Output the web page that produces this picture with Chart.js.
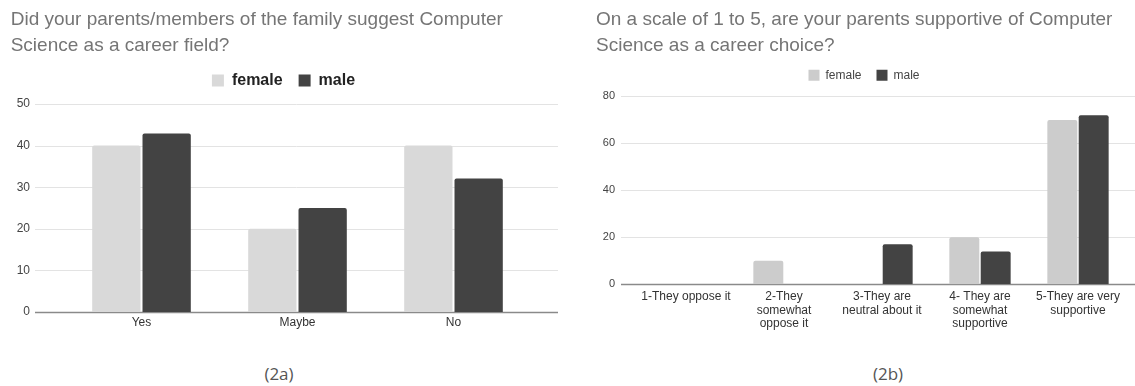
<!DOCTYPE html>
<html>
<head>
<meta charset="utf-8">
<script src="https://cdn.jsdelivr.net/npm/chart.js@4.4.1/dist/chart.umd.min.js"></script>
<style>
  html, body { margin: 0; padding: 0; background: #ffffff; }
  body { width: 1135px; height: 386px; position: relative; overflow: hidden; }
  .box { position: absolute; top: 0; height: 345px; }
  #box1 { left: 0; width: 560px; }
  #box2 { left: 580px; width: 555px; }
  .cap { position: absolute; top: 362px; width: 80px; text-align: center;
         font-family: "Open Sans", sans-serif; font-size: 17px; color: #555; font-weight: 400; }
</style>
</head>
<body>
<div class="box" id="box1"><canvas id="c1"></canvas></div>
<div class="box" id="box2"><canvas id="c2"></canvas></div>
<div class="cap" style="left:239px">(2a)</div>
<div class="cap" style="left:848px">(2b)</div>
<script>
// ---- Data ----
const title1 = ["Did your parents/members of the family suggest Computer", "Science as a career field?"];
const categories1 = ["Yes", "Maybe", "No"];
const female1 = [40, 20, 40];
const male1 = [42.9, 25, 32.1];
const yTicks1 = [0, 10, 20, 30, 40, 50];

const title2 = ["On a scale of 1 to 5, are your parents supportive of Computer", "Science as a career choice?"];
const categories2 = [
  ["1-They oppose it"],
  ["2-They", "somewhat", "oppose it"],
  ["3-They are", "neutral about it"],
  ["4- They are", "somewhat", "supportive"],
  ["5-They are very", "supportive"]
];
const female2 = [0, 10, 0, 20, 70];
const male2 = [0, 0, 17, 14, 72];
const yTicks2 = [0, 20, 40, 60, 80];

const seriesNames = ["female", "male"];

// grid plugin: extends horizontal gridlines beyond the category band
const extGrid = {
  id: 'extGrid',
  beforeDatasetsDraw(chart, args, opts) {
    const ctx = chart.ctx, y = chart.scales.y, a = chart.chartArea;
    const x0 = a.left - opts.extL, x1 = a.right + opts.extR;
    ctx.save();
    y.ticks.forEach(t => {
      const py = Math.round(y.getPixelForValue(t.value));
      ctx.beginPath();
      if (t.value === 0) { ctx.strokeStyle = opts.zeroColor; ctx.lineWidth = 1.5; }
      else { ctx.strokeStyle = opts.color; ctx.lineWidth = 1; }
      ctx.moveTo(x0, py + 0.5); ctx.lineTo(x1, py + 0.5);
      ctx.stroke();
    });
    ctx.restore();
  }
};

function makeChart(id, cfg) {
  const spacer = (w, h) => ({
    display: true, position: w ? 'right' : 'top', type: 'linear',
    ticks: { display: false }, grid: { display: false, drawTicks: false }, border: { display: false },
    afterFit: s => { if (w) s.width = w; else s.height = h; }
  });
  return new Chart(document.getElementById(id), {
    type: 'bar',
    data: {
      labels: cfg.labels,
      datasets: [
        { label: seriesNames[0], data: cfg.female, backgroundColor: cfg.femaleColor,
          categoryPercentage: cfg.catPct, barPercentage: cfg.barPct,
          borderRadius: { topLeft: 2, topRight: 2 }, borderSkipped: 'bottom' },
        { label: seriesNames[1], data: cfg.male, backgroundColor: '#434343',
          categoryPercentage: cfg.catPct, barPercentage: cfg.barPct,
          borderRadius: { topLeft: 2, topRight: 2 }, borderSkipped: 'bottom' }
      ]
    },
    options: {
      responsive: true, maintainAspectRatio: false, animation: false,
      layout: { padding: { left: cfg.padL, right: cfg.padR, top: 0, bottom: 0 } },
      plugins: {
        tooltip: { enabled: false },
        title: {
          display: true, text: cfg.title, align: 'start', color: '#757575',
          font: { family: 'Liberation Sans, Arial, sans-serif', size: 19, weight: 'normal', lineHeight: cfg.titleLH },
          padding: { top: cfg.titleTop, bottom: cfg.titleBottom }
        },
        legend: {
          display: true, position: 'top', align: 'center',
          labels: {
            boxWidth: cfg.box, boxHeight: cfg.box, padding: cfg.legPad, color: cfg.legColor,
            font: { family: 'Liberation Sans, Arial, sans-serif', size: cfg.legSize, weight: cfg.legWeight }
          }
        },
        extGrid: { extL: cfg.extL, extR: cfg.extR, color: '#e3e3e3', zeroColor: '#8a8a8a' }
      },
      scales: {
        x: {
          grid: { display: false, drawTicks: false }, border: { display: false },
          ticks: { color: '#333', padding: cfg.xPad, maxRotation: 0, autoSkip: false,
                   font: { family: 'Liberation Sans, Arial, sans-serif', size: 12, lineHeight: cfg.xLH } },
          afterFit: s => { s.height = cfg.xH; }
        },
        y: {
          min: 0, max: cfg.yMax,
          afterBuildTicks: s => { s.ticks = cfg.yTicks.map(v => ({ value: v })); },
          grid: { display: false, drawTicks: false }, border: { display: false },
          ticks: { color: '#444', padding: cfg.yPad,
                   font: { family: 'Liberation Sans, Arial, sans-serif', size: cfg.ySize } },
          afterFit: s => { s.width = cfg.yW; s.paddingTop = 0; s.paddingBottom = 0; }
        },
        sr: spacer(cfg.rightW, 0),
        st: spacer(0, cfg.topH)
      }
    },
    plugins: [extGrid]
  });
}

makeChart('c1', {
  labels: categories1, female: female1, male: male1, femaleColor: '#d9d9d9',
  catPct: 0.645, barPct: 0.96, title: title1, titleLH: 26 / 19, titleTop: 6.6, titleBottom: -2,
  box: 12, legPad: 16, legColor: '#222', legSize: 16, legWeight: 'bold',
  padL: 10.7, padR: 3.7, rightW: 24.8, topH: 5.4,
  yMax: 50, yTicks: yTicks1, yW: 52.8, yPad: 33.5, ySize: 12,
  xH: 33, xPad: 4, xLH: 1.15, extL: 28.5, extR: 26.5
});

makeChart('c2', {
  labels: categories2, female: female2, male: male2, femaleColor: '#cccccc',
  catPct: 0.64, barPct: 0.955, title: title2, titleLH: 25.5 / 19, titleTop: 7.2, titleBottom: -4,
  box: 11, legPad: 15, legColor: '#444', legSize: 12, legWeight: 'normal',
  padL: 16, padR: 3, rightW: 5, topH: 5.2,
  yMax: 80, yTicks: yTicks2, yW: 41, yPad: 22, ySize: 11,
  xH: 60.7, xPad: 6, xLH: 1.125, extL: 16, extR: 8
});
</script>
</body>
</html>
